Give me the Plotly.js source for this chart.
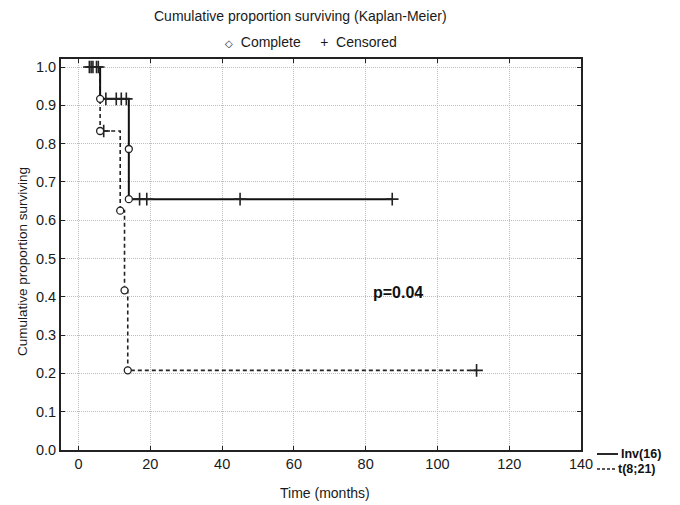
<!DOCTYPE html>
<html>
<head>
<meta charset="utf-8">
<script src="https://cdn.plot.ly/plotly-3.0.1.min.js"></script>
<style>html,body{margin:0;padding:0;background:#fff;}#chart{width:680px;height:505px;}</style>
</head>
<body>
<div id="chart"></div>
<script>
// ---- data ----
const seriesNames = ["Inv(16)", "t(8;21)"];

// Inv(16): Kaplan-Meier step curve
const inv16StepTime = [3, 6, 14, 14, 87.4];
const inv16StepSurv = [1.0, 0.917, 0.786, 0.655, 0.655];
const inv16CompleteTime = [6, 14, 14];
const inv16CompleteSurv = [0.917, 0.786, 0.655];
const inv16CensoredTime = [3, 4, 5, 5.5, 7.6, 10.5, 11.9, 13.3, 17, 19, 45, 87.4];
const inv16CensoredSurv = [1, 1, 1, 1, 0.917, 0.917, 0.917, 0.917, 0.655, 0.655, 0.655, 0.655];

// t(8;21)
const t821StepTime = [3.5, 6, 11.6, 12.8, 13.7, 110.9];
const t821StepSurv = [1.0, 0.833, 0.625, 0.417, 0.208, 0.208];
const t821CompleteTime = [6, 11.6, 12.8, 13.7];
const t821CompleteSurv = [0.833, 0.625, 0.417, 0.208];
const t821CensoredTime = [3.5, 7, 110.9];
const t821CensoredSurv = [1, 0.833, 0.208];

const xTicks = [0, 20, 40, 60, 80, 100, 120, 140];
const yTicks = [0, 0.1, 0.2, 0.3, 0.4, 0.5, 0.6, 0.7, 0.8, 0.9, 1.0];
const pValueText = "p=0.04";

// ---- chart ----
const FONT = "Liberation Sans, Arial, sans-serif";
const solid = {color: "#111", width: 2, dash: "solid", shape: "hv"};
const dashed = {color: "#222", width: 1.6, dash: "4px,3px", shape: "hv"};
const completeMarker = {symbol: "circle", size: 7, color: "#fff", line: {color: "#222", width: 1.3}};
const censMarker = {symbol: "cross-thin-open", size: 9, color: "#222", line: {color: "#222", width: 1.6}};

const traces = [
  {x: t821StepTime, y: t821StepSurv, mode: "lines", line: dashed, name: seriesNames[1], showlegend: false, hoverinfo: "skip"},
  {x: inv16StepTime, y: inv16StepSurv, mode: "lines", line: solid, name: seriesNames[0], showlegend: false, hoverinfo: "skip"},
  {x: t821CensoredTime, y: t821CensoredSurv, mode: "markers", marker: censMarker, showlegend: false},
  {x: inv16CensoredTime, y: inv16CensoredSurv, mode: "markers", marker: censMarker, showlegend: false},
  {x: t821CompleteTime, y: t821CompleteSurv, mode: "markers", marker: completeMarker, showlegend: false},
  {x: inv16CompleteTime, y: inv16CompleteSurv, mode: "markers", marker: completeMarker, showlegend: false}
];

const L = 61, R = 581, T = 59, B = 450;
const W = R - L, H = B - T;
const px = v => (v - L) / W;
const py = v => (B - v) / H;

const axisCommon = {
  showline: true, linecolor: "#222", linewidth: 2, mirror: "ticks",
  ticks: "inside", ticklen: 4, tickcolor: "#222", tickwidth: 1,
  showgrid: true, gridcolor: "#bdbdbd", griddash: "1px,1px", gridwidth: 1,
  zeroline: false, tickfont: {family: FONT, size: 14.5, color: "#1a1a1a"}
};

const layout = {
  width: 680, height: 505,
  margin: {l: L, r: 680 - R, t: T, b: 505 - B, pad: 0},
  paper_bgcolor: "#fff", plot_bgcolor: "#fff",
  showlegend: false,
  xaxis: Object.assign({}, axisCommon, {range: [-4.9, 140], tickvals: xTicks, ticktext: xTicks.map(String)}),
  yaxis: Object.assign({}, axisCommon, {range: [0, 1.021], tickvals: yTicks, ticktext: yTicks.map(v => v.toFixed(1))}),
  annotations: [
    {xref: "paper", yref: "paper", x: px(300), y: py(16), text: "Cumulative proportion surviving (Kaplan-Meier)", showarrow: false, font: {family: FONT, size: 14, color: "#1a1a1a"}, xanchor: "center", yanchor: "middle"},
    {xref: "paper", yref: "paper", x: px(311), y: py(42), text: "<span style='font-size:10px'>◇</span>  Complete     +  Censored", showarrow: false, font: {family: FONT, size: 14, color: "#1a1a1a"}, xanchor: "center", yanchor: "middle"},
    {xref: "paper", yref: "paper", x: px(22), y: py(262), text: "Cumulative proportion surviving", textangle: -90, showarrow: false, font: {family: FONT, size: 13.5, color: "#1a1a1a"}, xanchor: "center", yanchor: "middle"},
    {xref: "paper", yref: "paper", x: px(325), y: py(493), text: "Time (months)", showarrow: false, font: {family: FONT, size: 14, color: "#1a1a1a"}, xanchor: "center", yanchor: "middle"},
    {xref: "x", yref: "y", x: 89, y: 0.4125, text: "<b>" + pValueText + "</b>", showarrow: false, font: {family: FONT, size: 16, color: "#111"}, xanchor: "center", yanchor: "middle"},
    {xref: "paper", yref: "paper", x: px(619), y: py(454), text: "<b>" + seriesNames[0] + "</b>", showarrow: false, font: {family: FONT, size: 12.5, color: "#111"}, xanchor: "left", yanchor: "middle"},
    {xref: "paper", yref: "paper", x: px(616), y: py(469), text: "<b>" + seriesNames[1] + "</b>", showarrow: false, font: {family: FONT, size: 12.5, color: "#111"}, xanchor: "left", yanchor: "middle"}
  ],
  shapes: [
    {type: "line", xref: "paper", yref: "paper", x0: px(597), x1: px(618), y0: py(454), y1: py(454), line: {color: "#111", width: 1.8}},
    {type: "line", xref: "paper", yref: "paper", x0: px(597), x1: px(615), y0: py(469), y1: py(469), line: {color: "#222", width: 1.6, dash: "3px,2px"}}
  ]
};

Plotly.newPlot("chart", traces, layout, {displayModeBar: false, staticPlot: true});
</script>
</body>
</html>
